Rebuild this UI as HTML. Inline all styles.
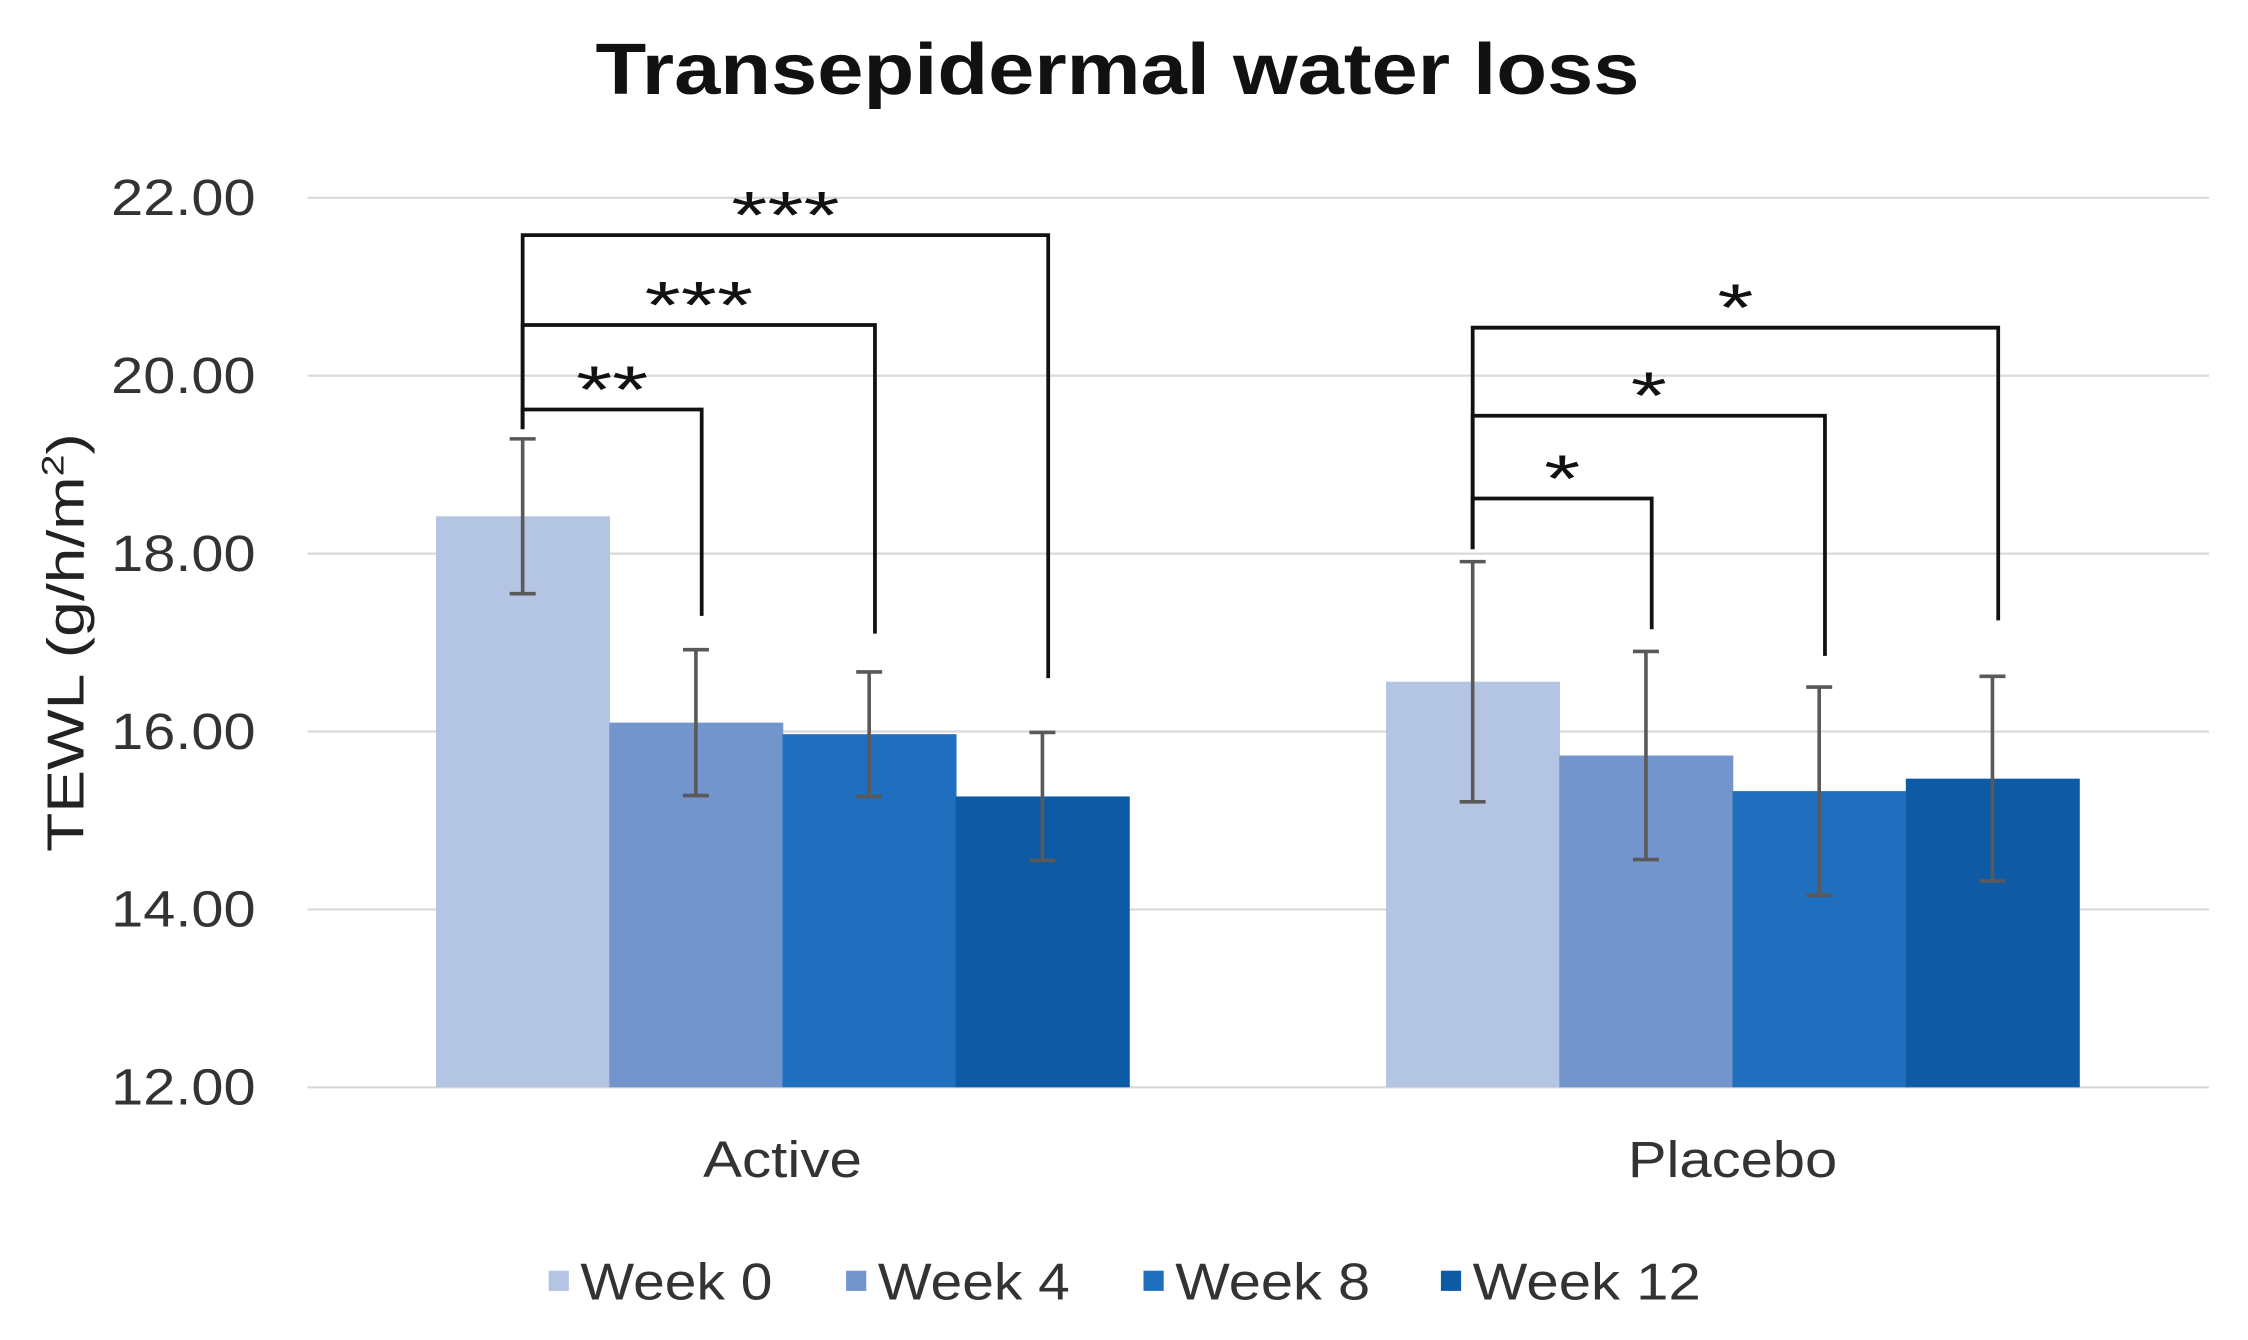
<!DOCTYPE html>
<html><head><meta charset="utf-8"><style>
html,body{margin:0;padding:0;background:#fff;}
svg{display:block;font-family:"Liberation Sans",Arial,sans-serif;}
</style></head><body>
<svg id="chart" width="2248" height="1340" viewBox="0 0 1557 928" preserveAspectRatio="none" xmlns="http://www.w3.org/2000/svg">
<text x="774" y="65" text-anchor="middle" font-size="50" font-weight="bold" fill="#111" textLength="723" lengthAdjust="spacingAndGlyphs">Transepidermal water loss</text>
<text transform="translate(58,445) rotate(-90)" text-anchor="middle" font-size="36" fill="#222" textLength="290" lengthAdjust="spacingAndGlyphs">TEWL (g/h/m<tspan font-size="22" dy="-14">2</tspan><tspan dy="14">)</tspan></text>
<g id="grid"></g><g id="bars"></g><g id="errs"></g><g id="brk"></g><g id="legend"></g>
</svg>
<script>
const categories = ["Active", "Placebo"];
const seriesNames = ["Week 0", "Week 4", "Week 8", "Week 12"];
const activeValues = [18.42, 16.10, 15.97, 15.27];
const placeboValues = [16.56, 15.73, 15.33, 15.47];
const activeErrors = [0.87, 0.82, 0.70, 0.72];
const placeboErrors = [1.35, 1.17, 1.17, 1.15];
const yTicks = [12, 14, 16, 18, 20, 22];
const yTickLabels = ["12.00", "14.00", "16.00", "18.00", "20.00", "22.00"];
// brackets: [group, fromSeries, toSeries, topValue, rightEndValue, stars]
const brackets = [
  [0, 0, 1, 19.62, 17.3, "**"],
  [0, 0, 2, 20.57, 17.1, "***"],
  [0, 0, 3, 21.58, 16.6, "***"],
  [1, 0, 1, 18.62, 17.15, "*"],
  [1, 0, 2, 19.55, 16.85, "*"],
  [1, 0, 3, 20.54, 17.25, "*"]
];
const colors = ["#b4c5e4", "#7296cc", "#1f6fbe", "#0f5aa5"];
const NS = "http://www.w3.org/2000/svg";
const x0 = 213, x1 = 1529, gridEnd = 1530, yTop = 137, yBot = 753, vMin = 12, vMax = 22;
const y = v => yBot - (v - vMin) / (vMax - vMin) * (yBot - yTop);
const groupCenters = categories.map((c, i) => x0 + (x1 - x0) * (i + 0.5) / categories.length);
const barW = 120;
const barX = (g, s) => groupCenters[g] - 2 * barW + s * barW;
function mk(tag, attrs, parent) { const e = document.createElementNS(NS, tag); for (const k in attrs) e.setAttribute(k, attrs[k]); parent.appendChild(e); return e; }
const grid = document.getElementById('grid');
yTicks.forEach((t, i) => {
  const l = mk('line', {x1: x0, x2: gridEnd, y1: y(t), y2: y(t), stroke: '#d9d9d9', 'stroke-width': 1.5}, grid);
  
  
  const tx = mk('text', {x: 177, y: y(t) + 12, 'text-anchor': 'end', 'font-size': 35, fill: '#333', textLength: 100, lengthAdjust: 'spacingAndGlyphs'}, grid);
  tx.textContent = yTickLabels[i];
  
  
});
const catLen = [110, 145];
categories.forEach((c, g) => {
  const t = mk('text', {x: groupCenters[g], y: 815, 'text-anchor': 'middle', 'font-size': 35, fill: '#333', textLength: catLen[g], lengthAdjust: 'spacingAndGlyphs'}, grid);
  t.textContent = c;
  
  
});
const bars = document.getElementById('bars'), errs = document.getElementById('errs');
[activeValues, placeboValues].forEach((vals, g) => {
  const errsArr = g === 0 ? activeErrors : placeboErrors;
  vals.forEach((v, s) => {
    const r = mk('rect', {x: barX(g, s), y: y(v), width: barW + 0.5, height: yBot - y(v), fill: colors[s]}, bars);
    
    
    const cx = barX(g, s) + barW / 2, hi = y(v + errsArr[s]), lo = y(v - errsArr[s]);
    const e = mk('path', {d: `M${cx},${hi}V${lo}M${cx-9},${hi}H${cx+9}M${cx-9},${lo}H${cx+9}`, stroke: '#595959', 'stroke-width': 2.5, fill: 'none'}, errs);
    
    
  });
});
const brk = document.getElementById('brk');
const leftEnd = [19.4, 18.05];
brackets.forEach(b => {
  const [g, a, c, top, rEnd, st] = b;
  const xa = barX(g, a) + barW / 2, xc = barX(g, c) + barW / 2 + 4;
  const p = mk('path', {d: `M${xa},${y(leftEnd[g])}V${y(top)}H${xc}V${y(rEnd)}`, stroke: '#111', 'stroke-width': 2.6, fill: 'none'}, brk);
  
  
  const t = mk('text', {x: (xa + xc) / 2, y: y(top) + 2, 'text-anchor': 'middle', 'font-size': 46, fill: '#111', textLength: st.length * 25, lengthAdjust: 'spacingAndGlyphs'}, brk);
  t.textContent = st;
  
  
});
const leg = document.getElementById('legend');
const legX = [380, 586, 792, 998];
const legLen = [133, 133, 135, 158];
seriesNames.forEach((n, i) => {
  const r = mk('rect', {x: legX[i], y: 880, width: 14, height: 14, fill: colors[i]}, leg);
  
  
  const t = mk('text', {x: legX[i] + 22, y: 900, 'font-size': 36, fill: '#333', textLength: legLen[i], lengthAdjust: 'spacingAndGlyphs'}, leg);
  t.textContent = n;
  
  
});
</script>
</body></html>
